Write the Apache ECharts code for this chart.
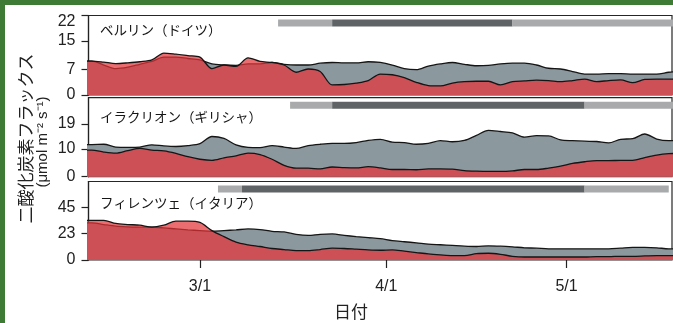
<!DOCTYPE html>
<html><head><meta charset="utf-8">
<script src="https://cdn.jsdelivr.net/npm/echarts@6/dist/echarts.min.js"></script>
<style>
html,body{margin:0;padding:0;background:#3e7b35;width:673px;height:323px;overflow:hidden}
#c{position:absolute;left:5px;top:5px;width:668px;height:318px;background:#fff}
</style></head>
<body><div id="c"></div>
<script>
// ---- data ----
const dates = [
 '2020-02-10','2020-02-12','2020-02-14','2020-02-16','2020-02-18','2020-02-20','2020-02-22','2020-02-24','2020-02-26','2020-02-28',
 '2020-03-01','2020-03-03','2020-03-05','2020-03-07','2020-03-09','2020-03-11','2020-03-13','2020-03-15','2020-03-17','2020-03-19','2020-03-21','2020-03-23','2020-03-25','2020-03-27','2020-03-29','2020-03-31',
 '2020-04-02','2020-04-04','2020-04-06','2020-04-08','2020-04-10','2020-04-12','2020-04-14','2020-04-16','2020-04-18','2020-04-20','2020-04-22','2020-04-24','2020-04-26','2020-04-28','2020-04-30',
 '2020-05-02','2020-05-04','2020-05-06','2020-05-08','2020-05-10','2020-05-12','2020-05-14','2020-05-16','2020-05-18','2020-05-20'];

const berlin2020 = [9.4,9.4,9.1,8.7,8.9,9.2,9.7,11.6,11.3,10.9,
 10.5,7.3,8.3,7.9,10.3,9.3,9.0,8.3,6.3,7.2,6.5,2.8,2.9,3.3,4.0,5.8,
 5.6,4.8,3.5,2.6,2.5,3.3,3.7,3.8,3.8,2.8,3.7,3.9,4.1,4.0,3.7,
 4.0,4.4,3.7,4.0,4.2,3.4,4.3,4.4,4.4,4.4];
const berlinBase = [9.4,9.4,8.3,7.3,7.7,8.5,9.3,10.5,10.5,10.1,
 9.7,8.6,8.3,8.2,8.6,8.6,9.0,8.5,8.3,8.3,8.8,9.0,8.9,8.9,9.2,9.0,
 8.3,7.3,7.0,8.0,8.6,9.0,8.5,8.1,8.2,8.6,8.8,8.8,8.3,7.4,7.2,
 6.5,5.8,5.8,5.9,5.9,5.8,5.8,5.8,6.3,6.6];

const heraklion2020 = [9.6,9.6,8.9,8.5,9.4,10.2,9.6,9.3,8.4,7.2,
 6.3,5.9,6.8,7.5,8.5,8.0,6.3,4.1,3.1,3.1,2.8,3.5,3.3,3.2,3.6,3.2,
 2.6,2.6,2.5,2.8,2.8,2.7,2.2,2.0,1.9,1.9,2.1,2.6,2.6,3.1,3.8,
 4.8,5.4,5.8,5.8,5.9,5.9,6.9,7.8,8.3,8.4];
const heraklionBase = [11.6,11.6,11.7,10.7,10.6,10.7,11.5,11.1,10.9,11.2,
 11.9,14.5,13.8,11.5,10.6,10.5,11.2,10.7,10.2,11.2,11.7,12.0,12.0,12.3,13.1,13.5,
 12.5,12.3,11.7,12.0,13.0,12.6,13.1,14.9,16.7,16.3,15.8,14.3,14.8,14.7,13.3,
 13.0,12.8,12.7,12.2,13.5,13.7,15.4,13.6,13.0,13.0];

const florence2020 = [34.0,34.0,34.0,31.4,30.5,29.9,28.2,29.9,33.4,33.4,
 32.3,25.3,20.1,15.4,13.1,11.6,9.9,9.0,8.1,8.1,9.0,10.2,9.9,9.3,8.7,8.4,
 8.7,7.6,6.4,5.2,4.4,3.8,3.8,5.5,5.8,4.9,3.2,2.6,2.6,2.6,2.6,
 2.6,2.6,2.9,2.9,3.2,3.2,3.5,3.8,3.8,3.8];
const florenceBase = [32.0,32.0,30.5,29.1,28.5,28.2,28.2,27.6,26.7,25.9,
 25.3,24.7,25.3,25.9,26.7,26.2,24.7,24.1,22.1,21.2,22.1,22.4,21.2,20.1,19.2,18.3,
 16.6,15.7,14.8,13.7,13.1,12.5,11.9,11.6,12.2,11.9,11.3,10.5,10.2,9.6,9.6,
 9.6,9.6,9.6,9.6,10.2,10.8,10.8,10.5,9.6,9.6];

// lockdown periods: [start, end, level] level 1 = strict
const berlinPeriods = [['2020-03-14','2020-03-23',0],['2020-03-23','2020-04-22',1],['2020-04-22','2020-05-20',0]];
const heraklionPeriods = [['2020-03-16','2020-03-23',0],['2020-03-23','2020-05-04',1],['2020-05-04','2020-05-20',0]];
const florencePeriods = [['2020-03-04','2020-03-08',0],['2020-03-08','2020-05-04',1],['2020-05-04','2020-05-18',0]];

const panelTitles = ['ベルリン（ドイツ）','イラクリオン（ギリシャ）','フィレンツェ（イタリア）'];
const yMaxes = [22, 28.5, 67.5];
const yTickValues = [[0,7,15,22],[0,10,19],[0,23,45]];
const xTickDates = ['2020-03-01','2020-04-01','2020-05-01'];
const xRange = ['2020-02-11T11','2020-05-18T13'];
const yTitle = '二酸化炭素フラックス';
const yUnit = '(μmol m⁻² s⁻¹)';
const xTitle = '日付';

// ---- helpers ----
function ts(s){const p=s.split(/[-T:]/).map(Number);return new Date(p[0],p[1]-1,p[2],p[3]||0).getTime();}
function pairs(vals){return dates.map((d,i)=>[ts(d),vals[i]]);}

const panels = [
 {obs:berlin2020, base:berlinBase, periods:berlinPeriods},
 {obs:heraklion2020, base:heraklionBase, periods:heraklionPeriods},
 {obs:florence2020, base:florenceBase, periods:florencePeriods}
];
const gridPos = [{top:10.5,height:79.5},{top:92.7,height:79},{top:176.5,height:78.5}];
const FONT = '"Liberation Sans", Arial, sans-serif';
const JFONT = '"Noto Sans CJK JP", sans-serif';
const monthTicks = xTickDates.map(ts);

const grid=[], xAxis=[], yAxis=[], series=[], graphic=[];
panels.forEach((p,i)=>{
 grid.push({left:83.5, width:583.5, top:gridPos[i].top, height:gridPos[i].height, show:true, borderColor:'#262626', borderWidth:1.2, backgroundColor:'rgba(0,0,0,0)'});
 const last = i===2;
 xAxis.push({gridIndex:i, type:'value', min:ts(xRange[0]), max:ts(xRange[1]), scale:true,
  axisLine:{show:false}, splitLine:{show:false},
  axisTick:{show:last, customValues:monthTicks, length:8, lineStyle:{color:'#222',width:1.2}},
  axisLabel:{show:last, customValues:monthTicks, margin:19, fontSize:16, color:'#222', fontFamily:FONT,
   formatter:v=>{const d=new Date(v);return (d.getMonth()+1)+'/'+d.getDate();}}});
 const ym = yMaxes[i];
 yAxis.push({gridIndex:i, type:'value', min:0, max:ym,
  axisLine:{show:true, lineStyle:{color:'#222',width:1.2}}, splitLine:{show:false},
  axisTick:{show:true, customValues:yTickValues[i], length:7, lineStyle:{color:'#222',width:1.2}},
  axisLabel:{customValues:yTickValues[i], margin:13, fontSize:16, color:'#222', fontFamily:FONT,
   formatter:v=> v===ym ? '{top|'+Math.round(v)+'}' : String(Math.round(v)),
   rich:{top:{fontSize:16, color:'#222', fontFamily:FONT, padding:[12,0,0,0]}}}});
 series.push({type:'line', xAxisIndex:i, yAxisIndex:i, data:pairs(p.base), symbol:'none', smooth:0.3,
  lineStyle:{color:'#151515', width:1.3}, areaStyle:{color:'#8b989e', opacity:1}, z:2, silent:true});
 series.push({type:'line', xAxisIndex:i, yAxisIndex:i, data:pairs(p.obs), symbol:'none', smooth:0.3,
  lineStyle:{color:'#151515', width:1.3}, areaStyle:{color:'rgb(228,52,57)', opacity:0.72}, z:3, silent:true});
 series.push({type:'custom', xAxisIndex:i, yAxisIndex:i, clip:true, z:5, silent:true,
  encode:{x:[0,1], y:2},
  data:p.periods.map(q=>[ts(q[0]),ts(q[1]),q[2]]),
  renderItem:(params, api)=>{
   const a=api.coord([api.value(0),0]), b=api.coord([api.value(1),0]);
   const top=params.coordSys.y+4;
   return {type:'rect', shape:{x:a[0], y:top, width:b[0]-a[0], height:7},
    style:{fill: api.value(2)===1 ? '#5f6365' : '#a8aaab'}};
  }});
 graphic.push({type:'text', x:95, y:gridPos[i].top + [14.5,19,21.8][i],
  style:{text:panelTitles[i], font:'13.5px '+JFONT, fill:'#151515', align:'left', verticalAlign:'middle'}});
});
graphic.push({type:'text', x:21, y:133.5, rotation:Math.PI/2,
 style:{text:yTitle, font:'17px '+JFONT, fill:'#222', align:'center', verticalAlign:'middle'}});
graphic.push({type:'text', x:38, y:137, rotation:Math.PI/2,
 style:{text:yUnit, font:'15px '+FONT, fill:'#222', align:'center', verticalAlign:'middle'}});
graphic.push({type:'text', x:346, y:307,
 style:{text:xTitle, font:'17px '+JFONT, fill:'#222', align:'center', verticalAlign:'middle'}});

const chart = echarts.init(document.getElementById('c'), null, {renderer:'canvas'});
chart.setOption({backgroundColor:'#fff', animation:false, grid, xAxis, yAxis, series, graphic});
</script></body></html>
